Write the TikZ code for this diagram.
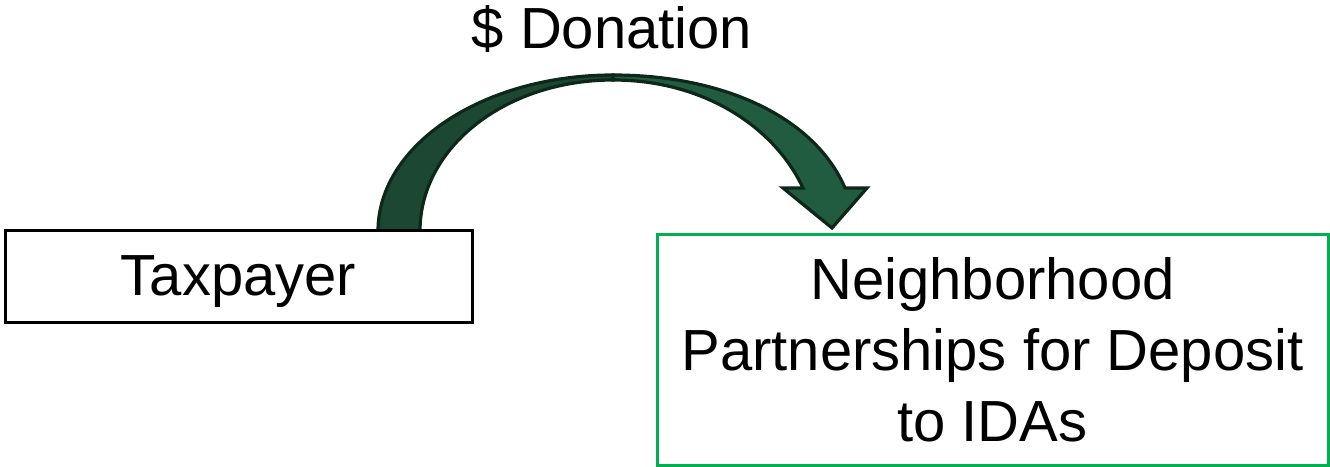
\documentclass[tikz,border=0pt]{standalone}
\usepackage{fontspec}
\setmainfont{Liberation Sans}
\definecolor{arrowdark}{HTML}{1B4733}
\definecolor{arrowmain}{HTML}{215B40}
\definecolor{arrowline}{HTML}{0D2818}
\definecolor{boxgreen}{HTML}{00B050}
\begin{document}
\begin{tikzpicture}[x=1pt,y=-1pt,
  lbl/.style={font=\fontsize{58}{71}\selectfont, inner sep=0pt},
  blackbox/.style={lbl, draw=black, line width=3pt, fill=white, text depth=0pt},
  greenbox/.style={lbl, draw=boxgreen, line width=3pt, fill=white, align=center},
  band/.style={draw=arrowline, line width=3.2pt, line join=miter}]
\useasboundingbox (0,0) rectangle (1330,466);
% arrow anchor points
\coordinate (lo) at (378,231);
\coordinate (li) at (420,231);
\coordinate (topo) at (613,75);
\coordinate (topi) at (613,80);
\coordinate (ho) at (845,188);
\coordinate (hi) at (803,188);
\coordinate (hr) at (867,188);
\coordinate (hl) at (783,188);
\coordinate (tip) at (832,228);
% left (back) band
\path[band, fill=arrowdark] (lo) .. controls (378,145) and (483,75) .. (topo)
  -- (topi) .. controls (506,80) and (420,147) .. (li) -- cycle;
% right band with head
\path[band, fill=arrowmain] (topo) .. controls (725,75) and (815,118) .. (ho)
  -- (hr) -- (tip) -- (hl) -- (hi) .. controls (775,128) and (705,80) .. (topi) -- cycle;
% boxes
\node[blackbox, minimum width=467, minimum height=92] (tax) at (238.5,276) {Taxpayer};
\node[greenbox, minimum width=671, minimum height=231] (nb) at (992.5,350)
  {Neighborhood\\Partnerships for Deposit\\to IDAs};
\node[lbl, anchor=base] (don) at (612,48) {\$ Donation};
\end{tikzpicture}
\end{document}
